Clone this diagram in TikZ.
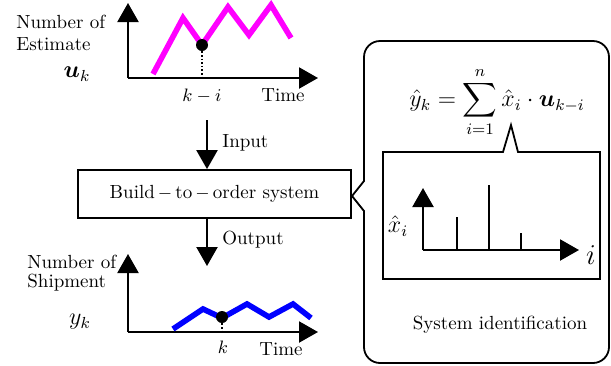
\documentclass[tikz,border=0pt]{standalone}
\usepackage{amsmath,bm}
\usetikzlibrary{arrows.meta}
\definecolor{estcol}{RGB}{255,0,255}
\definecolor{shipcol}{RGB}{0,0,255}
\tikzset{
  axis/.style={line width=1.1pt,-{Triangle[length=9.5pt,width=10.5pt]}},
  flow/.style={line width=1.1pt,-{Triangle[length=9.5pt,width=10.5pt]}},
  lbl/.style={font=\fontsize{9.5}{11.5}\selectfont,inner sep=0pt},
  dot/.style={circle,fill,inner sep=0pt,minimum size=6pt},
  curve/.style={line width=2.8pt,line join=miter},
}
\begin{document}
\begin{tikzpicture}[x=0.5pt,y=-0.5pt]
\useasboundingbox (0,0) rectangle (611,365);
% estimate graph
\coordinate (uo) at (128,78);
\draw[axis] (uo) -- (128,3);
\draw[axis] (uo) -- (318,78);
\draw[curve,estcol] (153,74) -- (183,18) -- (202,45) -- (228,7) -- (249,35) -- (271,5) -- (291,38);
\node[dot] (ud) at (202,45) {};
\draw[densely dotted,line width=0.8pt] (ud) -- (ud |- uo);
\node[lbl,anchor=west] (unum) at (16,22) {Number of};
\node[lbl,anchor=west] (uest) at (16,44) {Estimate};
\node[lbl,font=\large] (uk) at (77,74) {$\bm{u}_{k}$};
\node[lbl] (uki) at (202,96) {$k-i$};
\node[lbl] (utime) at (283,95) {Time};
% system block
\node[draw,line width=0.9pt,minimum width=136.5pt,minimum height=24pt,
  font=\fontsize{9.5}{11.5}\selectfont] (bto) at (214.5,194) {Build$\,-\,$to$\,-\,$order system};
\coordinate (in) at (207,120);
\coordinate (out) at (207,266);
\draw[flow] (in) -- (in |- bto.north);
\draw[flow] (out |- bto.south) -- (out);
\node[lbl,anchor=west] (inlbl) at (222,143) {Input};
\node[lbl,anchor=west] (outlbl) at (222,240) {Output};
% shipment graph
\coordinate (yo) at (128,332);
\draw[axis] (yo) -- (128,254);
\draw[axis] (yo) -- (318,332);
\draw[curve,shipcol] (173,329) -- (203,309) -- (222,318) -- (247,304) -- (269,317) -- (293,304) -- (311,318);
\node[dot] (yd) at (222,317) {};
\draw[densely dotted,line width=0.8pt] (yd) -- (yd |- yo);
\node[lbl,anchor=west] (ynum) at (27,262) {Number of};
\node[lbl,anchor=west] (yship) at (27,283) {Shipment};
\node[lbl,font=\large] (yk) at (80,322) {$y_{k}$};
\node[lbl] (ykk) at (223,347) {$k$};
\node[lbl] (ytime) at (281,349) {Time};
% system identification callout
\draw[line width=0.9pt] (364,181) [rounded corners=8pt] -- (364,41) -- (609,41) -- (609,363) -- (364,363)
  [sharp corners] -- (364,211) -- (352,196) -- cycle;
\node[lbl,font=\large] (eq) at (497,102) {$\displaystyle \hat{y}_{k}=\sum_{i=1}^{n}\hat{x}_{i}\cdot\bm{u}_{k-i}$};
\draw[line width=0.9pt] (383,152) -- (503,152) -- (511,125) -- (518,152) -- (600,152) -- (600,279) -- (383,279) -- cycle;
\coordinate (xo) at (423,250);
\draw[axis] (xo) -- (423,188);
\draw[axis] (xo) -- (579,250);
\foreach \px/\py in {457/217, 489/185, 521/233}
  \draw[line width=0.9pt] (\px,250) -- (\px,\py);
\node[lbl,font=\large] (xhat) at (398,226) {$\hat{x}_{i}$};
\node[lbl,font=\Large] (xi) at (591,255) {$i$};
\node[lbl] (sid) at (500,325) {System identification};
\end{tikzpicture}
\end{document}
